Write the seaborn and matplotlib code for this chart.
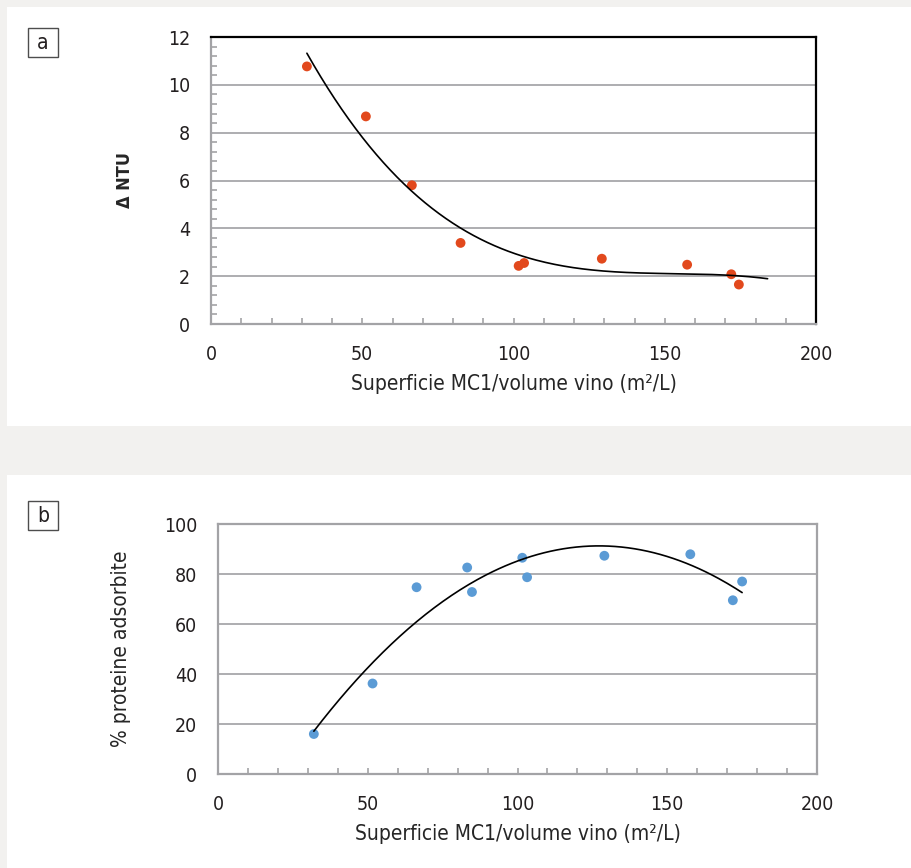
import numpy as np
import seaborn as sns
import matplotlib.pyplot as plt
from matplotlib.ticker import MultipleLocator
from matplotlib.patches import Rectangle

sns.set_theme(style='white')
plt.rcParams['font.family'] = ['DejaVu Sans']
plt.rcParams['font.stretch'] = 'condensed'
plt.rcParams['text.color'] = '#231f20'

# pannello a: torbidita
sup_a = [31.7, 51.2, 66.4, 82.5, 101.7, 103.5, 129.2, 157.4, 172.0, 174.5]
ntu_a = [10.77, 8.68, 5.80, 3.39, 2.43, 2.55, 2.73, 2.48, 2.08, 1.65]
trend_a_range = (31.7, 184.0)

# pannello b: proteine adsorbite
sup_b = [32.0, 51.6, 66.3, 83.2, 84.8, 101.6, 103.2, 129.0, 157.7, 171.9, 175.0]
prot_b = [16.0, 36.2, 74.7, 82.6, 72.8, 86.5, 78.7, 87.3, 87.9, 69.5, 77.0]
trend_b_range = (32.0, 175.0)

xlabel = 'Superficie MC1/volume vino (m²/L)'
W, H = 911, 868

fig = plt.figure(figsize=(W / 100, H / 100), dpi=100, facecolor='#f2f1ef')
# pannelli bianchi (sotto gli assi)
fig.patches.append(Rectangle((7 / W, 1 - 426 / H), 1, (426 - 7) / H,
                             transform=fig.transFigure, fc='white', ec='none', zorder=-10))
fig.patches.append(Rectangle((7 / W, 0), 1, (H - 475) / H,
                             transform=fig.transFigure, fc='white', ec='none', zorder=-10))


def px_axes(l, t, r, b):
    return fig.add_axes([l / W, 1 - b / H, (r - l) / W, (b - t) / H])


def trend(x, y, deg, rng):
    c = np.polyfit(x, y, deg)
    xx = np.linspace(rng[0], rng[1], 200)
    return xx, np.polyval(c, xx)


def style(ax, ymax, ystep):
    ax.set_xlim(0, 200)
    ax.set_ylim(0, ymax)
    ax.xaxis.set_major_locator(MultipleLocator(50))
    ax.xaxis.set_minor_locator(MultipleLocator(10))
    ax.yaxis.set_major_locator(MultipleLocator(ystep))
    ax.yaxis.grid(True, color='#a7a7aa', lw=1.3)
    ax.set_axisbelow(True)
    for s in ax.spines.values():
        s.set_color('#a3a3a6')
        s.set_linewidth(1.6)
    ax.tick_params(which='both', direction='in', bottom=True, left=True,
                   color='#a3a3a6', width=1.2, length=4, pad=15,
                   labelsize=14, labelcolor='#231f20')
    ax.tick_params(axis='y', which='major', length=0)
    ax.set_xlabel(xlabel, fontsize=15, labelpad=7)


def tag(letter, top):
    fig.patches.append(Rectangle((28 / W, 1 - (top + 29) / H), 30 / W, 29 / H,
                                 transform=fig.transFigure, fc='white', ec='#4d4d4d', lw=1))
    fig.text(43 / W, 1 - (top + 15) / H, letter, ha='center', va='center', fontsize=15)


# ---- a
ax_a = px_axes(211, 37, 816, 324)
sns.scatterplot(x=sup_a, y=ntu_a, ax=ax_a, color='#e2491d', s=50, edgecolor='none', zorder=3)
xx, yy = trend(sup_a, ntu_a, 3, trend_a_range)
ax_a.plot(xx, yy, color='black', lw=1.2, zorder=4)
style(ax_a, 12, 2)
ax_a.yaxis.set_minor_locator(MultipleLocator(0.4))
ax_a.spines['top'].set_color('black')
ax_a.spines['right'].set_color('black')
ax_a.set_ylabel('Δ NTU', fontsize=13, fontweight='bold')
ax_a.yaxis.set_label_coords(-0.128, 0.5)
tag('a', 28)

# ---- b
ax_b = px_axes(218, 524, 817, 774)
sns.scatterplot(x=sup_b, y=prot_b, ax=ax_b, color='#5b9bd5', s=50, edgecolor='none', zorder=3)
xx, yy = trend(sup_b, prot_b, 2, trend_b_range)
ax_b.plot(xx, yy, color='black', lw=1.2, zorder=4)
style(ax_b, 100, 20)
ax_b.tick_params(axis='y', which='minor', length=0)
ax_b.set_ylabel('% proteine adsorbite', fontsize=15)
ax_b.yaxis.set_label_coords(-0.145, 0.5)
tag('b', 501)

fig.savefig('out.png', dpi=100, facecolor=fig.get_facecolor())
